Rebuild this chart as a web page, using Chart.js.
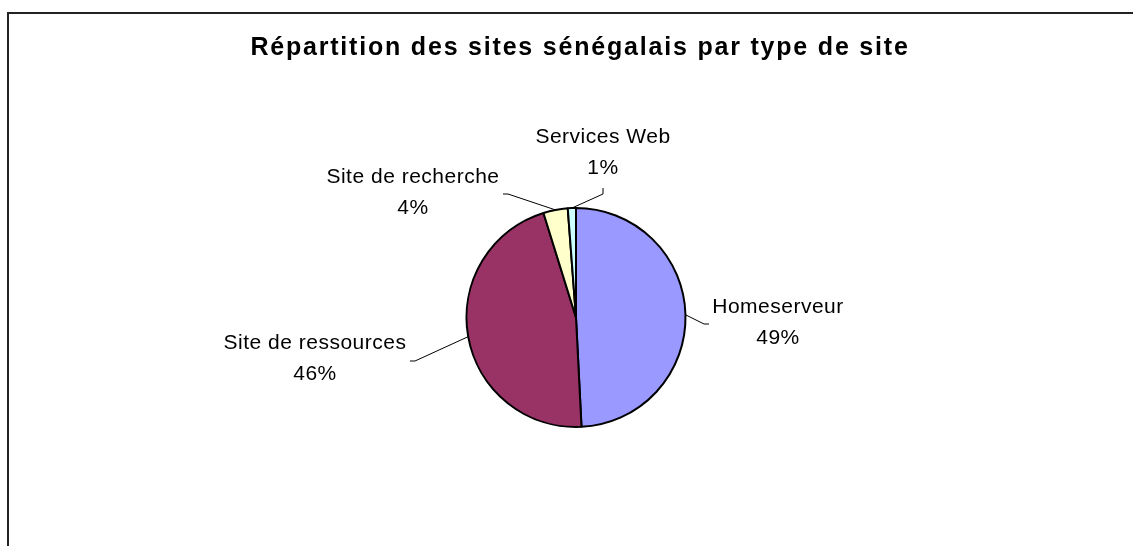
<!DOCTYPE html>
<html>
<head>
<meta charset="utf-8">
<script src="https://cdn.jsdelivr.net/npm/chart.js@4/dist/chart.umd.min.js"></script>
<style>
  html, body { margin: 0; padding: 0; background: #fff; }
  #wrap { width: 1133px; height: 546px; position: relative; }
</style>
</head>
<body>
<div id="wrap"><canvas id="chart" width="1133" height="546"></canvas></div>
<script>
// data (percent of sites)
const titleText = 'Répartition des sites sénégalais par type de site';
const categories = ['Homeserveur', 'Site de ressources', 'Site de recherche', 'Services Web'];
const shares = [49.2, 46.0, 3.6, 1.2];
const sliceColors = ['#9999FF', '#993366', '#FFFFCC', '#CCFFFF'];

// where each label block sits, and the elbow / end of its leader line
const labelBoxes = [
  { x: 778, y: 307, elbow: [704, 324], end: [709, 324] },
  { x: 315, y: 343, elbow: [415, 361], end: [410, 361] },
  { x: 413, y: 177, elbow: [508, 194], end: [503, 194] },
  { x: 603, y: 137, elbow: [603, 194], end: [603, 188] }
];

const FONT = '"Liberation Sans", Arial, sans-serif';

const decorations = {
  id: 'decorations',
  afterDraw(chart) {
    const ctx = chart.ctx;
    const meta = chart.getDatasetMeta(0);
    const total = shares.reduce((a, b) => a + b, 0);
    ctx.save();

    // frame (top + left edges only are visible)
    ctx.strokeStyle = '#222';
    ctx.lineWidth = 2;
    ctx.beginPath();
    ctx.moveTo(8, 546);
    ctx.lineTo(8, 13);
    ctx.lineTo(1133, 13);
    ctx.stroke();

    // title
    ctx.fillStyle = '#000';
    ctx.font = 'bold 25px ' + FONT;
    ctx.letterSpacing = '1.8px';
    ctx.textAlign = 'center';
    ctx.textBaseline = 'middle';
    ctx.fillText(titleText, 580, 48);

    // leader lines + labels
    ctx.letterSpacing = '0.5px';
    ctx.font = '21px ' + FONT;
    meta.data.forEach((arc, i) => {
      const p = arc.getProps(['x', 'y', 'startAngle', 'endAngle', 'outerRadius'], true);
      const mid = (p.startAngle + p.endAngle) / 2;
      const ex = p.x + Math.cos(mid) * p.outerRadius;
      const ey = p.y + Math.sin(mid) * p.outerRadius;
      const box = labelBoxes[i];
      ctx.strokeStyle = '#000';
      ctx.lineWidth = 1;
      ctx.beginPath();
      ctx.moveTo(ex, ey);
      ctx.lineTo(box.elbow[0], box.elbow[1]);
      ctx.lineTo(box.end[0], box.end[1]);
      ctx.stroke();

      const pct = Math.round(shares[i] / total * 100) + '%';
      ctx.fillText(categories[i], box.x, box.y);
      ctx.fillText(pct, box.x, box.y + 31);
    });
    ctx.restore();
  }
};

new Chart(document.getElementById('chart'), {
  type: 'pie',
  data: {
    labels: categories,
    datasets: [{
      data: shares,
      backgroundColor: sliceColors,
      borderColor: '#000',
      borderWidth: 2,
      borderAlign: 'center'
    }]
  },
  options: {
    responsive: false,
    animation: false,
    events: [],
    layout: { padding: { top: 207, bottom: 118, left: 300, right: 281 } },
    plugins: {
      legend: { display: false },
      tooltip: { enabled: false },
      title: { display: false }
    }
  },
  plugins: [decorations]
});
</script>
</body>
</html>
